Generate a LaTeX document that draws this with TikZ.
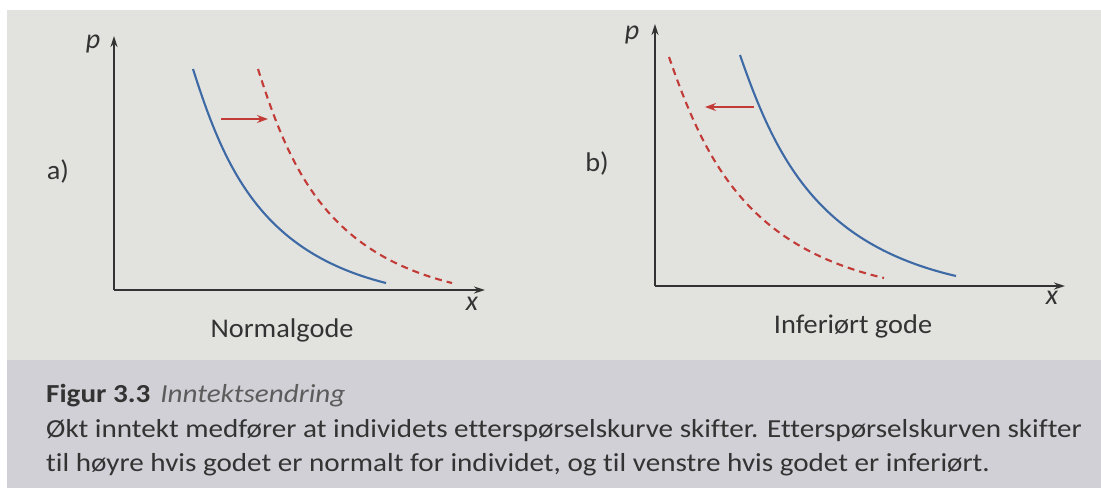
\documentclass[tikz,border=0pt]{standalone}
\usepackage{fontspec}
\setmainfont{Carlito}[Ligatures=NoCommon]
\newfontfamily\capfont{Carlito}[FakeStretch=1.12, Ligatures=NoCommon]
\newfontfamily\lblfont{Carlito}[FakeStretch=1.05, Ligatures=NoCommon]
\usetikzlibrary{arrows.meta}
\definecolor{pagebg}{HTML}{E2E2DF}
\definecolor{bandbg}{HTML}{D0D0D6}
\definecolor{inkc}{HTML}{333333}
\definecolor{curveblue}{HTML}{3D6AA5}
\definecolor{curvered}{HTML}{C23B36}
\tikzset{
  axisline/.style={draw=inkc, line width=1.7pt, -{Stealth[length=11pt,width=7pt]}},
  oldcurve/.style={draw=curveblue, line width=2.1pt},
  newcurve/.style={draw=curvered, line width=2.1pt, dash pattern=on 7pt off 5pt},
  shiftarrow/.style={draw=curvered, line width=1.5pt, -{Stealth[length=11pt,width=8pt]}},
  lbl/.style={text=inkc, font=\lblfont\fontsize{27}{32}\selectfont, inner sep=0pt},
  ilbl/.style={text=inkc, font=\fontsize{28}{32}\selectfont\itshape, inner sep=0pt},
  captext/.style={text=inkc, font=\capfont\fontsize{26}{30}\selectfont, inner sep=0pt, anchor=base west}
}
\begin{document}
\begin{tikzpicture}[x=1pt,y=-1pt]
\useasboundingbox (0,0) rectangle (1101,488);
\fill[white] (0,0) rectangle (1101,488);
\fill[pagebg] (7,10) rectangle (1101,360);
\fill[bandbg] (7,360) rectangle (1101,488);
% panel a
\coordinate (ao) at (114,290);
\coordinate (ay) at (114,36);
\coordinate (ax) at (485,290);
\draw[axisline] (ao) -- (ay);
\draw[axisline] (ao) -- (ax);
\node[ilbl] (ap) at (93,44) {p};
\node[ilbl] (axl) at (472,304) {x};
\node[lbl] (alab) at (58,171) {a)};
\node[lbl] (aname) at (282,330) {Normalgode};
\coordinate (ab0) at (193,69);
\coordinate (ab1) at (386,283);
\draw[oldcurve] (ab0) .. controls (225,170) and (262,252) .. (ab1);
\coordinate (ar0) at (258,69);
\coordinate (ar1) at (452,283);
\draw[newcurve] (ar0) .. controls (290,170) and (327,252) .. (ar1);
\coordinate (aa0) at (221,119);
\coordinate (aa1) at (268,119);
\draw[shiftarrow] (aa0) -- (aa1);
% panel b
\coordinate (bo) at (655,286);
\coordinate (by) at (655,24);
\coordinate (bx) at (1065,286);
\draw[axisline] (bo) -- (by);
\draw[axisline] (bo) -- (bx);
\node[ilbl] (bp) at (632,35) {p};
\node[ilbl] (bxl) at (1052,298) {x};
\node[lbl] (blab) at (597,163) {b)};
\node[lbl] (bname) at (853,326) {Inferiørt gode};
\coordinate (bb0) at (740,55);
\coordinate (bb1) at (956,276);
\draw[oldcurve] (bb0) .. controls (776,159) and (818,244) .. (bb1);
\coordinate (br0) at (669,57);
\coordinate (br1) at (884,278);
\draw[newcurve] (br0) .. controls (705,161) and (747,246) .. (br1);
\coordinate (ba0) at (754,107);
\coordinate (ba1) at (705,107);
\draw[shiftarrow] (ba0) -- (ba1);
% caption
\node[captext] (c1) at (46,402) {\textbf{Figur 3.3}\hspace{10pt}{\itshape\color{inkc!80}Inntektsendring}};
\node[captext] (c2) at (46,437) {Økt inntekt medfører at individets etterspørselskurve skifter. Etterspørselskurven skifter};
\node[captext] (c3) at (46,471) {til høyre hvis godet er normalt for individet, og til venstre hvis godet er inferiørt.};
\end{tikzpicture}
\end{document}
